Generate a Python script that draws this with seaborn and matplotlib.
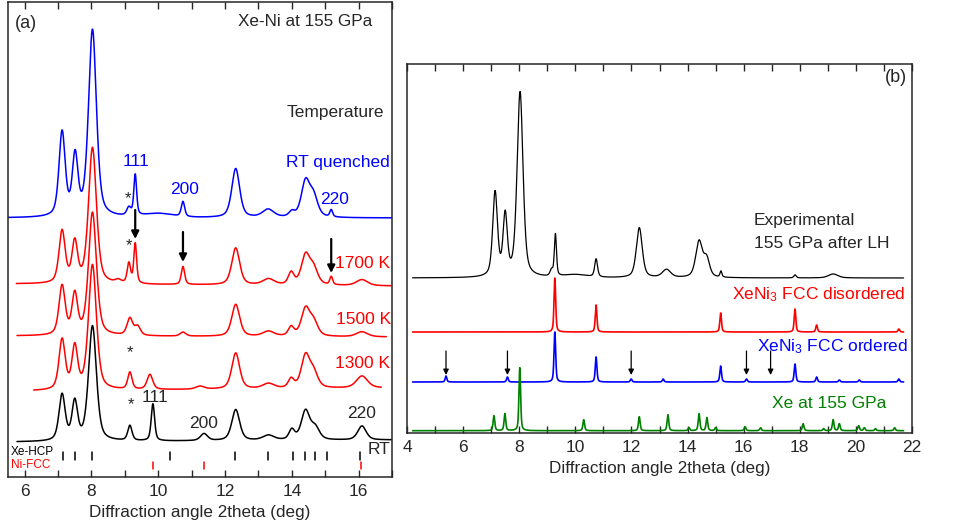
import numpy as np
import matplotlib.pyplot as plt
from matplotlib.ticker import MultipleLocator
import seaborn as sns

# ─────────────────────────────────────────────────
# peak tables: position (deg), height, FWHM (deg)
# heights / baselines are in the panel's own arbitrary intensity units
# ─────────────────────────────────────────────────

# (a) Xe-Ni at 155 GPa, temperature series
rtq_pos = [7.12, 7.51, 8.03, 9.12, 9.31, 10.0, 10.74, 12.32, 13.29, 14.0, 14.41, 14.65, 15.18]
rtq_hgt = [84, 59, 187, 8, 41, 4, 15, 49, 8, 5, 35, 20, 7]
rtq_fwhm = [0.22, 0.2, 0.28, 0.15, 0.1, 1.0, 0.12, 0.28, 0.4, 0.2, 0.3, 0.3, 0.1]

k1700_pos = [7.12, 7.5, 8.03, 8.8, 9.12, 9.31, 10.74, 12.32, 13.3, 13.98, 14.41, 14.65, 15.18, 16.1]
k1700_hgt = [52, 40, 136, 3, 20, 40, 18, 37, 6, 12, 29, 16, 8, 6]
k1700_fwhm = [0.22, 0.2, 0.28, 0.2, 0.12, 0.1, 0.12, 0.28, 0.4, 0.2, 0.3, 0.3, 0.1, 0.4]

k1500_pos = [7.12, 7.5, 8.03, 9.15, 9.38, 10.74, 12.32, 13.3, 13.98, 14.41, 14.65, 16.1]
k1500_hgt = [49, 40, 123, 17, 9, 4, 32, 5, 9, 27, 14, 5]
k1500_fwhm = [0.22, 0.2, 0.28, 0.2, 0.2, 0.2, 0.28, 0.4, 0.2, 0.3, 0.3, 0.4]

k1300_pos = [7.12, 7.5, 8.03, 9.15, 9.75, 11.25, 12.32, 13.3, 13.98, 14.41, 14.65, 16.1]
k1300_hgt = [50, 42, 125, 17, 15, 3, 36, 5, 9, 32, 15, 12]
k1300_fwhm = [0.22, 0.2, 0.28, 0.15, 0.2, 0.3, 0.28, 0.4, 0.2, 0.3, 0.3, 0.4]

rt_pos = [7.12, 7.5, 8.03, 9.15, 9.84, 11.37, 12.32, 13.3, 14.0, 14.41, 14.7, 16.1]
rt_hgt = [46, 38, 115, 15, 37, 7, 31, 5, 10, 29, 12, 14]
rt_fwhm = [0.22, 0.2, 0.28, 0.15, 0.12, 0.25, 0.28, 0.4, 0.2, 0.3, 0.3, 0.3]

# name, colour, x start, x end, baseline start, baseline end
a_series = [
    ("RT quenched", "blue", 5.5, 17.0, 259, 259),
    ("1700 K", "red", 5.75, 17.0, 193, 191),
    ("1500 K", "red", 5.77, 16.83, 141, 140),
    ("1300 K", "red", 6.27, 16.68, 86, 89),
    ("RT", "black", 5.77, 17.0, 35, 37),
]
a_peaks = [
    (rtq_pos, rtq_hgt, rtq_fwhm),
    (k1700_pos, k1700_hgt, k1700_fwhm),
    (k1500_pos, k1500_hgt, k1500_fwhm),
    (k1300_pos, k1300_hgt, k1300_fwhm),
    (rt_pos, rt_hgt, rt_fwhm),
]

xe_hcp_ticks = [7.14, 7.52, 8.03, 10.36, 12.30, 13.30, 14.04, 14.39, 14.69, 15.04, 16.05]
ni_fcc_ticks = [9.83, 11.37, 16.08]

# (b) experiment vs simulated patterns
exp_pos = [7.14, 7.5, 8.03, 9.15, 9.29, 10.0, 10.74, 12.28, 13.25, 14.41, 14.68, 15.19, 17.83, 19.19]
exp_hgt = [84, 60, 185, 6, 42, 3, 18, 50, 8, 36, 18, 6, 3, 4]
exp_fwhm = [0.2, 0.18, 0.25, 0.12, 0.09, 1.0, 0.12, 0.25, 0.35, 0.28, 0.25, 0.08, 0.1, 0.4]

dis_pos = [9.27, 10.74, 15.18, 17.83, 18.6, 21.53]
dis_hgt = [54, 27, 19, 23, 7, 3]

ord_pos = [5.39, 7.58, 9.27, 10.74, 11.99, 13.13, 15.18, 16.1, 17.83, 18.6, 19.41, 20.12, 21.53]
ord_hgt = [6, 5, 50, 25, 3, 3, 16, 3, 18, 5, 2, 2, 3]

xe_pos = [7.1, 7.49, 8.02, 10.3, 12.28, 13.3, 14.05, 14.41, 14.69, 15.0, 16.05, 16.6,
          18.12, 18.85, 19.19, 19.41, 20.1, 20.3, 20.7, 21.38]
xe_hgt = [15, 17, 63, 11, 14, 16, 3, 17, 13, 3, 4, 3, 7, 2, 11, 7, 5, 3, 2, 3]

sim_fwhm = 0.07
ordered_arrows = [5.39, 7.58, 11.99, 16.1, 16.96]


def profile(x, pos, hgt, fwhm, eta=0.5):
    """pseudo-Voigt sum of the listed peaks"""
    y = np.zeros_like(x)
    for p, h, w in zip(pos, hgt, fwhm):
        d = (x - p) / (w / 2)
        y += h * (eta / (1 + d**2) + (1 - eta) * np.exp(-np.log(2) * d**2))
    return y


def style_axis(ax, xmin, xmax):
    ax.set_xlim(xmin, xmax)
    ax.xaxis.set_major_locator(MultipleLocator(2))
    ax.xaxis.set_minor_locator(MultipleLocator(1))
    ax.tick_params(axis="x", which="both", direction="in", top=True, length=5,
                   width=1, labelsize=12.5, pad=5)
    ax.set_yticks([])
    ax.set_ylabel("")
    for s in ax.spines.values():
        s.set_linewidth(1.1)
        s.set_visible(True)
    ax.set_xlabel("Diffraction angle 2theta (deg)", fontsize=12.3, labelpad=4)


sns.set_theme(style="ticks")
plt.rcParams["font.family"] = ["Liberation Sans", "DejaVu Sans"]
plt.rcParams["mathtext.fontset"] = "custom"
plt.rcParams["mathtext.rm"] = "Liberation Sans"
plt.rcParams["mathtext.it"] = "Liberation Sans:italic"
plt.rcParams["mathtext.default"] = "rm"

fig = plt.figure(figsize=(9.74, 5.27), dpi=100)
ax_a = fig.add_axes([8 / 974, 50 / 527, 384 / 974, 475 / 527])
ax_b = fig.add_axes([407 / 974, 94 / 527, 505 / 974, 369 / 527])

# ─────────────────────────────────────────────────
# (a)
# ─────────────────────────────────────────────────
for (name, col, x0, x1, b0, b1), (pos, hgt, fw) in zip(a_series, a_peaks):
    x = np.linspace(x0, x1, 2400)
    y = np.linspace(b0, b1, x.size) + profile(x, pos, hgt, fw)
    sns.lineplot(x=x, y=y, ax=ax_a, color=col, lw=1.1, sort=False, estimator=None)

ax_a.set_ylim(0, 475)
style_axis(ax_a, 5.5, 17.0)

for t in xe_hcp_ticks:
    ax_a.plot([t, t], [17, 25], color="black", lw=1.1)
for t in ni_fcc_ticks:
    ax_a.plot([t, t], [8, 15], color="red", lw=1.1)
ax_a.text(5.58, 25, "Xe-HCP", fontsize=8.5, color="black", va="center")
ax_a.text(5.6, 12, "Ni-FCC", fontsize=8.5, color="red", va="center")

ax_a.text(5.72, 454, "(a)", fontsize=13, va="center")
ax_a.text(16.42, 455, "Xe-Ni at 155 GPa", fontsize=12.3, ha="right", va="center")
ax_a.text(16.75, 364, "Temperature", fontsize=12.5, ha="right", va="center")
ax_a.text(16.93, 315, "RT quenched", fontsize=12.5, ha="right", va="center", color="blue")
ax_a.text(9.34, 315, "111", fontsize=12.5, ha="center", va="center", color="blue")
ax_a.text(10.78, 288, "200", fontsize=12.5, ha="center", va="center", color="blue")
ax_a.text(15.28, 278, "220", fontsize=12.5, ha="center", va="center", color="blue")
ax_a.text(16.93, 214, "1700 K", fontsize=12.5, ha="right", va="center", color="red")
ax_a.text(16.98, 158, "1500 K", fontsize=12.5, ha="right", va="center", color="red")
ax_a.text(16.93, 114, "1300 K", fontsize=12.5, ha="right", va="center", color="red")
ax_a.text(9.91, 80, "111", fontsize=12.5, ha="center", va="center")
ax_a.text(11.37, 54, "200", fontsize=12.5, ha="center", va="center")
ax_a.text(16.09, 63, "220", fontsize=12.5, ha="center", va="center")
ax_a.text(16.95, 28, "RT", fontsize=12.5, ha="right", va="center")
for sx, sy in [(9.1, 278), (9.13, 231), (9.16, 124), (9.19, 72)]:
    ax_a.text(sx, sy, "*", fontsize=12, ha="center", va="center")

for ax_x, y0, y1 in [(9.31, 267, 238), (10.74, 245, 215), (15.18, 238, 204)]:
    ax_a.annotate("", xy=(ax_x, y1), xytext=(ax_x, y0),
                  arrowprops=dict(arrowstyle="-|>", color="black", lw=1.6,
                                  mutation_scale=11, shrinkA=0, shrinkB=0))

# ─────────────────────────────────────────────────
# (b)
# ─────────────────────────────────────────────────
xb = np.linspace(4.2, 21.7, 5000)
b_curves = [
    (profile(xb, exp_pos, exp_hgt, exp_fwhm) + 155, "black", 0.9),
    (profile(xb, dis_pos, dis_hgt, [sim_fwhm] * len(dis_pos)) + 101, "red", 1.2),
    (profile(xb, ord_pos, ord_hgt, [sim_fwhm] * len(ord_pos)) + 51, "blue", 1.2),
    (profile(xb, xe_pos, xe_hgt, [sim_fwhm] * len(xe_pos)) + 2.3, "green", 1.2),
]
for y, col, lw in b_curves:
    sns.lineplot(x=xb, y=y, ax=ax_b, color=col, lw=lw, sort=False, estimator=None)

ax_b.set_ylim(0, 369)
style_axis(ax_b, 4, 22)

ax_b.text(21.82, 355, "(b)", fontsize=13, ha="right", va="center")
ax_b.text(16.37, 213, "Experimental", fontsize=12.5, va="center")
ax_b.text(16.37, 190, "155 GPa after LH", fontsize=12.5, va="center")
ax_b.text(21.75, 138, r"XeNi$_3$ FCC disordered", fontsize=12.5, ha="right",
          va="center", color="red")
ax_b.text(21.85, 86, r"XeNi$_3$ FCC ordered", fontsize=12.5, ha="right",
          va="center", color="blue")
ax_b.text(19.04, 30, "Xe at 155 GPa", fontsize=12.5, ha="center", va="center",
          color="green")
for t in ordered_arrows:
    ax_b.annotate("", xy=(t, 58), xytext=(t, 82),
                  arrowprops=dict(arrowstyle="-|>", color="black", lw=0.9,
                                  mutation_scale=8, shrinkA=0, shrinkB=0))

fig.savefig("out.png", dpi=100)
plt.close()
